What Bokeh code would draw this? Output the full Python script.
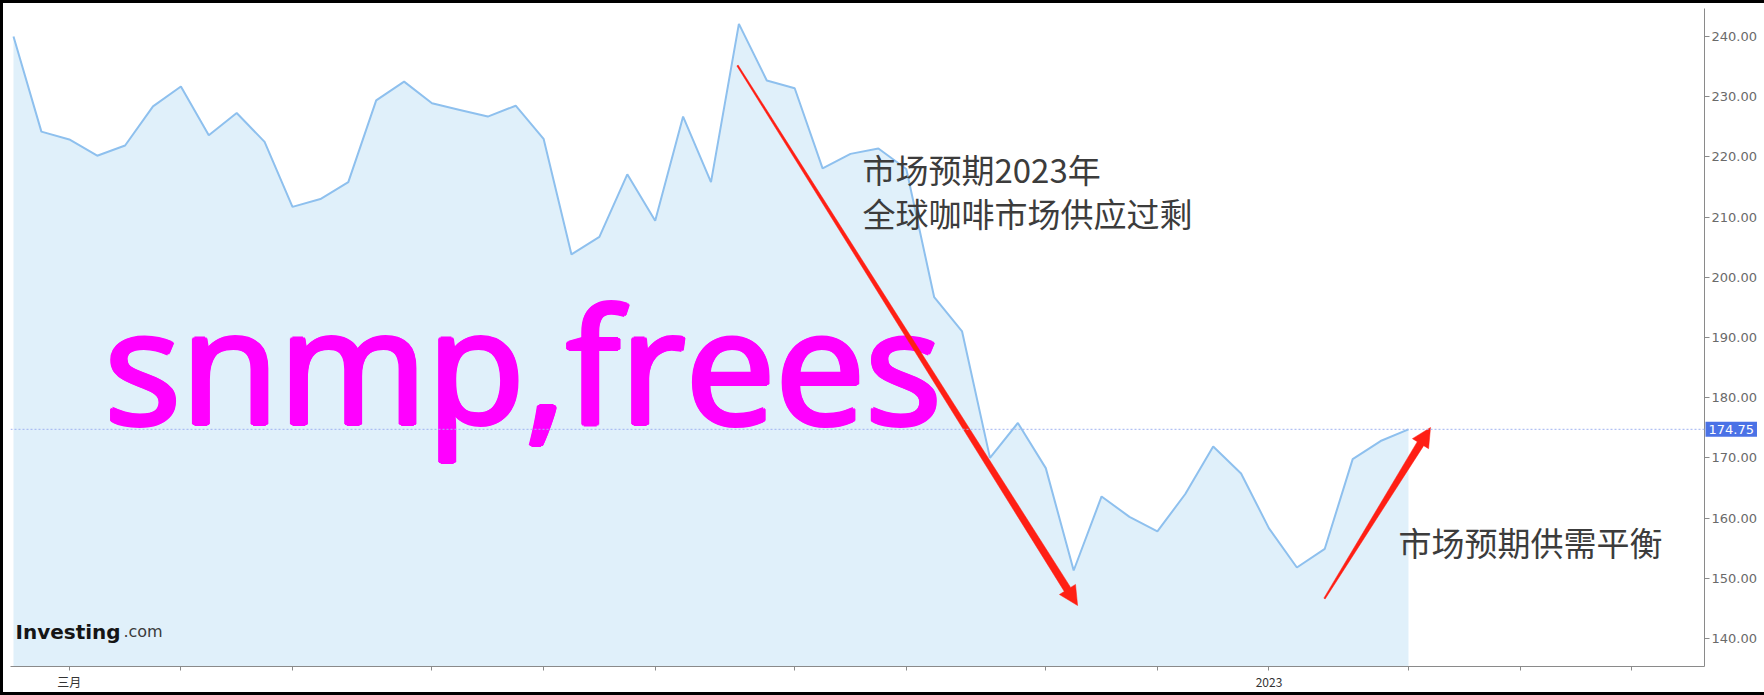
import numpy as np
import pandas as pd
from bokeh.plotting import figure
from bokeh.models import (FixedTicker, Span, Label, PrintfTickFormatter, Range1d)
from bokeh.core.properties import value
from bokeh.embed import file_html
from bokeh.resources import INLINE

# ---------------- data ----------------
# weekly coffee futures closes (weeks starting Monday 2022-02-21 .. 2023-02-06)
first_week = "2022-02-21"
prices = [240.0, 224.2, 222.9, 220.2, 221.9, 228.4, 231.7, 223.6, 227.3, 222.5,
          211.7, 213.0, 215.8, 229.4, 232.5, 228.9, 227.8, 226.7, 228.5, 223.0,
          203.8, 206.7, 217.1, 209.4, 226.7, 215.8, 242.1, 232.7, 231.4, 218.1,
          220.5, 221.4, 218.0, 196.7, 191.0, 170.0, 175.8, 168.3, 151.3, 163.6,
          160.2, 157.8, 164.0, 171.9, 167.4, 158.3, 151.8, 154.9, 169.8, 172.8, 174.75]
last_price = 174.75
y_ticks = [140, 150, 160, 170, 180, 190, 200, 210, 220, 230, 240]
n_slots = 61                     # weekly slots shown on the axis (data + empty future)
month_labels = {"2022-03": "三月", "2023-01": "2023"}

note1_lines = ["市场预期2023年", "全球咖啡市场供应过剩"]
note2_text = "市场预期供需平衡"
watermark = "snmp,frees"

weeks = pd.date_range(first_week, periods=n_slots, freq="7D")
x = np.arange(len(prices))

# month ticks: first weekly slot of each month
month_ticks, tick_overrides = [], {}
for i in range(1, n_slots):
    if weeks[i].month != weeks[i - 1].month:
        month_ticks.append(i)
        tick_overrides[i] = month_labels.get(weeks[i].strftime("%Y-%m"), "")

# ---------------- figure ----------------
FW, FH = 1694, 658
X0, X1 = -0.1075, 60.61
Y0, Y1 = 135.35, 244.65

p = figure(frame_width=FW, frame_height=FH,
           x_range=Range1d(X0, X1), y_range=Range1d(Y0, Y1),
           output_backend="svg", toolbar_location=None,
           y_axis_location="right", x_axis_location="below",
           min_border_left=7, min_border_top=5, min_border_right=54, min_border_bottom=24)
p.outline_line_color = None
p.grid.visible = False
p.background_fill_color = "white"
p.border_fill_color = "white"
p.styles = {"border-style": "solid", "border-color": "black",
            "border-width": "3px 6px 5px 3px"}

ya = p.yaxis[0]
ya.ticker = FixedTicker(ticks=y_ticks)
ya.formatter = PrintfTickFormatter(format="%.2f")
ya.axis_line_color = "#8a8a8a"
ya.major_tick_line_color = "#8a8a8a"
ya.major_tick_out = 5
ya.major_tick_in = 0
ya.minor_tick_out = 0
ya.minor_tick_in = 0
ya.major_label_standoff = 2
ya.major_label_text_font = "DejaVu Sans"
ya.major_label_text_font_size = "13px"
ya.major_label_text_color = "#6a6a6a"

xa = p.xaxis[0]
xa.ticker = FixedTicker(ticks=month_ticks)
xa.major_label_overrides = tick_overrides
xa.axis_line_color = "#8a8a8a"
xa.major_tick_line_color = "#8a8a8a"
xa.major_tick_out = 4
xa.major_tick_in = 0
xa.minor_tick_out = 0
xa.minor_tick_in = 0
xa.major_label_standoff = 2
xa.major_label_text_font = "Noto Sans CJK SC"
xa.major_label_text_font_size = "12px"
xa.major_label_text_color = "#333333"

# area + line
p.varea(x=x, y1=Y0 - 20, y2=prices, fill_color="#e0f0fa")
p.line(x=x, y=prices, line_color="#8ec0ee", line_width=2)

# last price dotted line
p.add_layout(Span(location=last_price, dimension="width", line_color="#9fb2f0",
                  line_dash="2 2", line_width=1))

# watermark text (drawn a few times with tiny offsets to get a semibold stroke)
offs_x = [0, 2.5, -2.5, 0, 0, 1.8, -1.8, 1.8, -1.8]
offs_y = [0, 0, 0, 1.8, -1.8, 1.2, 1.2, -1.2, -1.2]
p.text(x=[3.26] * len(offs_x), y=[185.9] * len(offs_x), text=[watermark] * len(offs_x),
       x_offset=offs_x, y_offset=offs_y,
       text_font=value("Open Sans"), text_font_size="160px", text_color="#ff00ff",
       text_baseline="alphabetic", text_align="left")

# annotations
p.text(x=[30.43, 30.43], y=[222.0, 214.7], text=note1_lines,
       text_font=value("Noto Sans CJK SC"), text_font_size="33px",
       text_color="#3c3c3c", text_baseline="top", text_align="left")
p.text(x=[49.64], y=[160.0], text=[note2_text],
       text_font=value("Noto Sans CJK SC"), text_font_size="33px",
       text_color="#3c3c3c", text_baseline="top", text_align="left")

# tapered red arrows (tail, tip in data coordinates)
px_x = FW / (X1 - X0)
px_y = FH / (Y1 - Y0)
arrows = [((25.95, 235.18), (38.14, 145.48)),
          ((46.99, 146.64), (50.79, 175.05))]


def tapered_arrow(tail, tip, w_tail=1.5, w_shaft=7.5, head_len=19, head_half=9.5):
    p0 = np.array([tail[0] * px_x, tail[1] * px_y])
    p1 = np.array([tip[0] * px_x, tip[1] * px_y])
    d = p1 - p0
    L = np.hypot(*d)
    u = d / L
    n = np.array([-u[1], u[0]])
    base = p1 - u * head_len
    pts = [p0 + n * w_tail / 2, base + n * w_shaft / 2, base + n * head_half, p1,
           base - n * head_half, base - n * w_shaft / 2, p0 - n * w_tail / 2]
    xs = [pt[0] / px_x for pt in pts]
    ys = [pt[1] / px_y for pt in pts]
    return xs, ys


for tail, tip in arrows:
    xs, ys = tapered_arrow(tail, tip)
    p.patch(xs, ys, fill_color="#ff1f14", line_color="#ff1f14", line_width=0.5)

# logo
p.text(x=[0.07], y=[141.1], text=["Investing"], text_font=value("DejaVu Sans"),
       text_font_size="20px", text_font_style="bold", text_color="#151515",
       text_baseline="alphabetic")
p.text(x=[3.94], y=[141.1], text=[".com"], text_font=value("DejaVu Sans"),
       text_font_size="16px", text_color="#3a3a3a", text_baseline="alphabetic")

# last price tag on the right axis (placed in the right side panel so it is not clipped)
p.add_layout(Label(x=X1, y=last_price, text=f"{last_price:.2f}", x_offset=1,
                   text_font="DejaVu Sans", text_font_size="13px",
                   text_color="white", text_baseline="middle", text_align="left",
                   background_fill_color="#4b72e6", background_fill_alpha=1.0,
                   padding=3), "right")

open("out.html", "w").write(file_html(p, INLINE))
